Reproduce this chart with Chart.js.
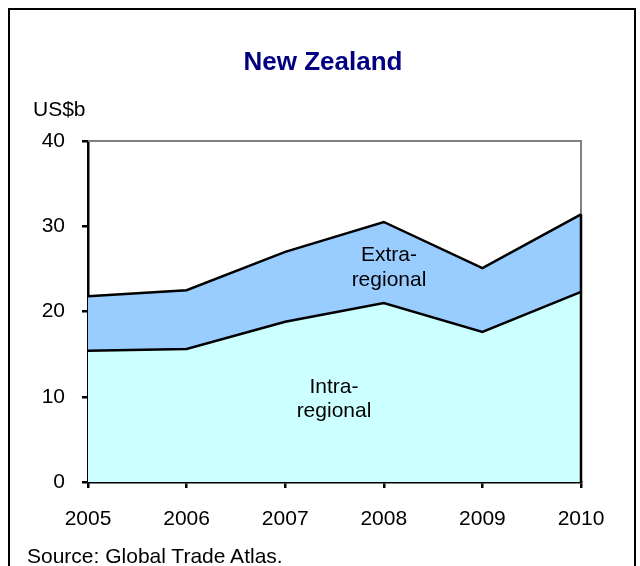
<!DOCTYPE html>
<html>
<head>
<meta charset="utf-8">
<script src="https://cdn.jsdelivr.net/npm/chart.js@4/dist/chart.umd.min.js"></script>
<style>
    body { margin: 0; background: #fff; }
    #wrap { position: relative; width: 640px; height: 566px; overflow: hidden; font-family: "Liberation Sans", Arial, sans-serif; }
    #frame { position: absolute; left: 8px; top: 8px; width: 624px; height: 620px; border: 2px solid #000; }
    canvas { position: absolute; left: 0; top: 0; }
    .txt { position: absolute; font-size: 21px; line-height: 21px; color: #000; white-space: nowrap; }
    #title { left: 0; width: 646px; top: 48px; text-align: center; font-size: 26px; line-height: 26px; font-weight: bold; color: #000080; }
    .area-label { text-align: center; width: 200px; }
</style>
</head>
<body>
<div id="wrap">
    <div id="frame"></div>
    <canvas id="tradeChart" width="640" height="566"></canvas>
    <div id="title" class="txt">New Zealand</div>
    <div class="txt" style="left:33px; top:98px;">US$b</div>
    <div class="txt area-label" style="left:289px; top:241px; line-height:25px;">Extra-<br>regional</div>
    <div class="txt area-label" style="left:234px; top:374px; line-height:24px;">Intra-<br>regional</div>
    <div class="txt" style="left:27px; top:545px;">Source: Global Trade Atlas.</div>
</div>
<script>
// values, US$b
const years = ['2005', '2006', '2007', '2008', '2009', '2010'];
const intraRegional = [15.4, 15.6, 18.8, 21.0, 17.6, 22.3];
const extraRegional = [6.4, 6.9, 8.2, 9.5, 7.5, 9.1];
const yTicks = [0, 10, 20, 30, 40];

const FONT = "'Liberation Sans', Arial, sans-serif";

// gray frame on top/right of the plot, black closing edge of the stacked area
const plotFrame = {
    id: 'plotFrame',
    beforeDatasetsDraw(chart) {
        const { ctx, chartArea: a } = chart;
        ctx.save();
        ctx.strokeStyle = '#808080';
        ctx.lineWidth = 2;
        ctx.beginPath();
        ctx.moveTo(a.left, a.top);
        ctx.lineTo(a.right, a.top);
        ctx.lineTo(a.right, a.bottom);
        ctx.stroke();
        ctx.restore();
    },
    afterDatasetsDraw(chart) {
        const { ctx, chartArea: a } = chart;
        const pts = chart.getDatasetMeta(1).data;
        const last = pts[pts.length - 1];
        ctx.save();
        ctx.strokeStyle = '#000';
        ctx.lineWidth = 2.5;
        ctx.beginPath();
        ctx.moveTo(last.x, last.y);
        ctx.lineTo(last.x, a.bottom);
        ctx.stroke();
        ctx.restore();
    }
};

new Chart(document.getElementById('tradeChart'), {
    type: 'line',
    data: {
        labels: years,
        datasets: [{
            label: 'Intra-regional',
            data: intraRegional,
            fill: 'origin',
            backgroundColor: '#ccffff',
            borderColor: '#000',
            borderWidth: 2.5,
            pointRadius: 0,
            tension: 0
        }, {
            label: 'Extra-regional',
            data: extraRegional,
            fill: '-1',
            backgroundColor: '#99ccff',
            borderColor: '#000',
            borderWidth: 2.5,
            pointRadius: 0,
            tension: 0
        }]
    },
    options: {
        responsive: false,
        animation: false,
        layout: {
            padding: { left: 0, right: 59, top: 141, bottom: 24 }
        },
        scales: {
            x: {
                z: 1,
                offset: false,
                grid: { drawOnChartArea: false, offset: false, color: '#000', tickLength: 6, lineWidth: 2.5 },
                border: { color: '#000', width: 2.5 },
                ticks: { color: '#000', padding: 19, maxRotation: 0, font: { size: 21, family: FONT } },
                afterFit(scale) { scale.height = 60; }
            },
            y: {
                z: 1,
                stacked: true,
                min: 0,
                max: 40,
                afterBuildTicks(scale) { scale.ticks = yTicks.map(v => ({ value: v })); },
                grid: { drawOnChartArea: false, color: '#000', tickLength: 6, lineWidth: 2.5 },
                border: { color: '#000', width: 2.5 },
                ticks: { color: '#000', padding: 17, font: { size: 21, family: FONT } },
                afterFit(scale) { scale.width = 88; }
            }
        },
        plugins: {
            legend: { display: false },
            tooltip: { enabled: false }
        }
    },
    plugins: [plotFrame]
});
</script>
</body>
</html>
